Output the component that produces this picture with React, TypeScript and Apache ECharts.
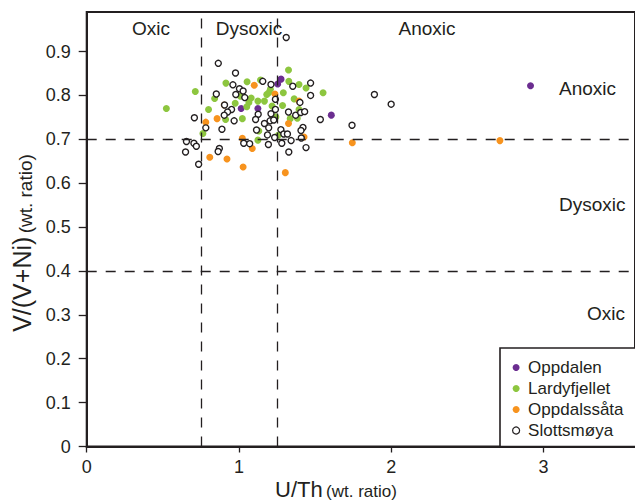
import React, { useEffect, useRef } from "react";
import * as echarts from "echarts";

// U/Th (x), V/(V+Ni) (y)
const oppdalen: [number, number][] = [
  [1.254, 0.826], [1.276, 0.837], [1.014, 0.770], [1.124, 0.770], [1.606, 0.755], [2.914, 0.822],
];

const lardyfjellet: [number, number][] = [
  [0.523, 0.770], [0.713, 0.809], [0.800, 0.768], [0.840, 0.793], [0.914, 0.828], [0.912, 0.745],
  [0.763, 0.713], [0.975, 0.782], [1.053, 0.831], [1.080, 0.794], [1.065, 0.784], [1.051, 0.774],
  [1.124, 0.787], [1.141, 0.835], [1.167, 0.787], [1.182, 0.802], [1.195, 0.806], [1.206, 0.814],
  [1.286, 0.777], [1.291, 0.806], [1.325, 0.858], [1.327, 0.832], [1.362, 0.792], [1.394, 0.825],
  [1.440, 0.817], [1.552, 0.806], [1.394, 0.768], [1.383, 0.748], [1.336, 0.747], [1.130, 0.719],
  [1.258, 0.709], [1.124, 0.698], [1.022, 0.747], [1.242, 0.751], [1.217, 0.776], [1.009, 0.798],
];

const oppdalssata: [number, number][] = [
  [1.100, 0.823], [1.236, 0.803], [1.394, 0.787], [0.903, 0.778], [0.856, 0.747], [0.782, 0.739],
  [1.325, 0.736], [1.022, 0.702], [1.087, 0.679], [1.427, 0.705], [0.808, 0.659], [0.921, 0.655],
  [1.027, 0.637], [1.304, 0.624], [1.744, 0.692], [2.713, 0.697],
];

const slottsmoya: [number, number][] = [
  [1.310, 0.932], [0.864, 0.873], [0.977, 0.851], [1.156, 0.832], [1.210, 0.825], [0.960, 0.824],
  [1.003, 0.815], [1.470, 0.828], [1.353, 0.821], [1.470, 0.800], [0.851, 0.803], [0.979, 0.802],
  [1.027, 0.810], [1.038, 0.795], [1.239, 0.791], [0.905, 0.778], [0.951, 0.768], [0.925, 0.762],
  [0.903, 0.755], [1.126, 0.757], [1.210, 0.758], [1.325, 0.762], [1.372, 0.755], [1.405, 0.761],
  [1.431, 0.763], [1.534, 0.745], [1.742, 0.732], [1.889, 0.802], [1.999, 0.780], [0.707, 0.749],
  [0.968, 0.742], [1.109, 0.745], [1.167, 0.736], [1.204, 0.742], [1.228, 0.744], [0.782, 0.726],
  [0.888, 0.723], [1.195, 0.726], [1.115, 0.721], [1.275, 0.722], [1.294, 0.712], [1.318, 0.712],
  [1.420, 0.727], [1.407, 0.720], [1.234, 0.704], [1.187, 0.710], [1.409, 0.703], [0.655, 0.695],
  [0.704, 0.691], [0.720, 0.684], [0.649, 0.671], [0.735, 0.643], [0.871, 0.679], [0.863, 0.672],
  [1.031, 0.691], [1.193, 0.688], [1.281, 0.691], [1.342, 0.697], [1.440, 0.681], [1.327, 0.671],
  [1.400, 0.784], [1.070, 0.690], [1.239, 0.768],
];

const xTicks = [0, 1, 2, 3];
const yTicks = [0, 0.1, 0.2, 0.3, 0.4, 0.5, 0.6, 0.7, 0.8, 0.9];
const uThLimits = [0.75, 1.25];
const vNiLimits = [0.7, 0.4];

const INK = "#231f20";
const FONT = "'Liberation Sans', Arial, sans-serif";

export default function App() {
  const ref = useRef<HTMLDivElement>(null);
  useEffect(() => {
    if (!ref.current) return;
    const chart = echarts.init(ref.current, undefined, { renderer: "svg" });
    const dotBase = { type: "scatter" as const, symbol: "circle", z: 3 };
    chart.setOption({
      animation: false,
      textStyle: { fontFamily: FONT },
      grid: {
        left: 86.7,
        right: -7,
        top: 12,
        bottom: 55.5,
        show: true,
        borderColor: INK,
        borderWidth: 2,
        backgroundColor: "transparent",
      },
      xAxis: {
        type: "value",
        min: 0,
        max: 3.6,
        interval: 1,
        axisLine: { show: true, onZero: false, lineStyle: { color: INK, width: 2 } },
        axisTick: { show: true, length: 6, customValues: xTicks, lineStyle: { color: INK, width: 1.3 } },
        axisLabel: {
          customValues: xTicks,
          color: INK,
          fontSize: 18,
          margin: 11,
          fontFamily: FONT,
          formatter: (v: number) => String(v),
        },
        splitLine: { show: false },
      },
      yAxis: {
        type: "value",
        min: 0,
        max: 0.99,
        interval: 0.1,
        axisLine: { show: true, onZero: false, lineStyle: { color: INK, width: 2 } },
        axisTick: { show: true, length: 8, customValues: yTicks, lineStyle: { color: INK, width: 1.3 } },
        axisLabel: {
          customValues: yTicks,
          color: INK,
          fontSize: 18,
          margin: 16,
          fontFamily: FONT,
          formatter: (v: number) => (v === 0 ? "0" : v.toFixed(1)),
        },
        splitLine: { show: false },
      },
      legend: {
        orient: "vertical",
        left: 512,
        top: 359,
        itemWidth: 14,
        itemHeight: 7,
        itemGap: 4,
        padding: 0,
        symbolKeepAspect: true,
        textStyle: { fontSize: 17, lineHeight: 17, color: INK, fontFamily: FONT },
        data: [
          { name: "Oppdalen" },
          { name: "Lardyfjellet" },
          { name: "Oppdalssåta" },
          { name: "Slottsmøya", itemStyle: { borderWidth: 1.2 } },
        ],
      },
      graphic: [
        {
          type: "rect",
          shape: { x: 500, y: 348, width: 200, height: 98.5 },
          style: { fill: "#fff", stroke: INK, lineWidth: 1.6 },
          z: 1,
        },
        { type: "text", x: 151, y: 28, style: { text: "Oxic", fontSize: 19, fontFamily: FONT, fill: INK, align: "center", verticalAlign: "middle" } },
        { type: "text", x: 249, y: 28, style: { text: "Dysoxic", fontSize: 19, fontFamily: FONT, fill: INK, align: "center", verticalAlign: "middle" } },
        { type: "text", x: 427, y: 28, style: { text: "Anoxic", fontSize: 19, fontFamily: FONT, fill: INK, align: "center", verticalAlign: "middle" } },
        { type: "text", x: 559, y: 88, style: { text: "Anoxic", fontSize: 19, fontFamily: FONT, fill: INK, align: "left", verticalAlign: "middle" } },
        { type: "text", x: 559, y: 204, style: { text: "Dysoxic", fontSize: 19, fontFamily: FONT, fill: INK, align: "left", verticalAlign: "middle" } },
        { type: "text", x: 587, y: 313, style: { text: "Oxic", fontSize: 19, fontFamily: FONT, fill: INK, align: "left", verticalAlign: "middle" } },
        {
          type: "text",
          x: 336,
          y: 489,
          style: {
            text: "{a|U/Th} {b|(wt. ratio)}",
            align: "center",
            verticalAlign: "middle",
            fill: INK,
            rich: {
              a: { fontSize: 22, fontFamily: FONT, fill: INK, verticalAlign: "bottom" },
              b: { fontSize: 17, fontFamily: FONT, fill: INK, verticalAlign: "bottom" },
            },
          },
        },
        {
          type: "text",
          x: 22,
          y: 243,
          rotation: Math.PI / 2,
          style: {
            text: "{a|V/(V+Ni)} {b|(wt. ratio)}",
            align: "center",
            verticalAlign: "middle",
            fill: INK,
            rich: {
              a: { fontSize: 25, fontFamily: FONT, fill: INK, verticalAlign: "bottom" },
              b: { fontSize: 19, fontFamily: FONT, fill: INK, verticalAlign: "bottom" },
            },
          },
        },
      ],
      series: [
        {
          type: "scatter",
          name: "limits",
          data: [],
          silent: true,
          z: 1,
          markLine: {
            silent: true,
            symbol: "none",
            animation: false,
            label: { show: false },
            lineStyle: { color: INK, width: 1.3, type: [10, 9] },
            data: [
              ...uThLimits.map((v) => ({ xAxis: v })),
              ...vNiLimits.map((v) => ({ yAxis: v })),
            ],
          },
        },
        { ...dotBase, name: "Oppdalen", data: oppdalen, symbolSize: 7, itemStyle: { color: "#6b2d90", opacity: 1 } },
        { ...dotBase, name: "Lardyfjellet", data: lardyfjellet, symbolSize: 7, itemStyle: { color: "#8dc63f", opacity: 1 } },
        { ...dotBase, name: "Oppdalssåta", data: oppdalssata, symbolSize: 7, itemStyle: { color: "#f7931e", opacity: 1 } },
        {
          ...dotBase,
          name: "Slottsmøya",
          data: slottsmoya,
          symbolSize: 6,
          itemStyle: { color: "#ffffff", borderColor: INK, borderWidth: 1.4, opacity: 1 },
        },
      ],
    });
    return () => chart.dispose();
  }, []);
  return (
    <div
      ref={ref}
      style={{ position: "fixed", left: 0, top: 0, width: 635, height: 502, overflow: "hidden", background: "#fff" }}
    />
  );
}
